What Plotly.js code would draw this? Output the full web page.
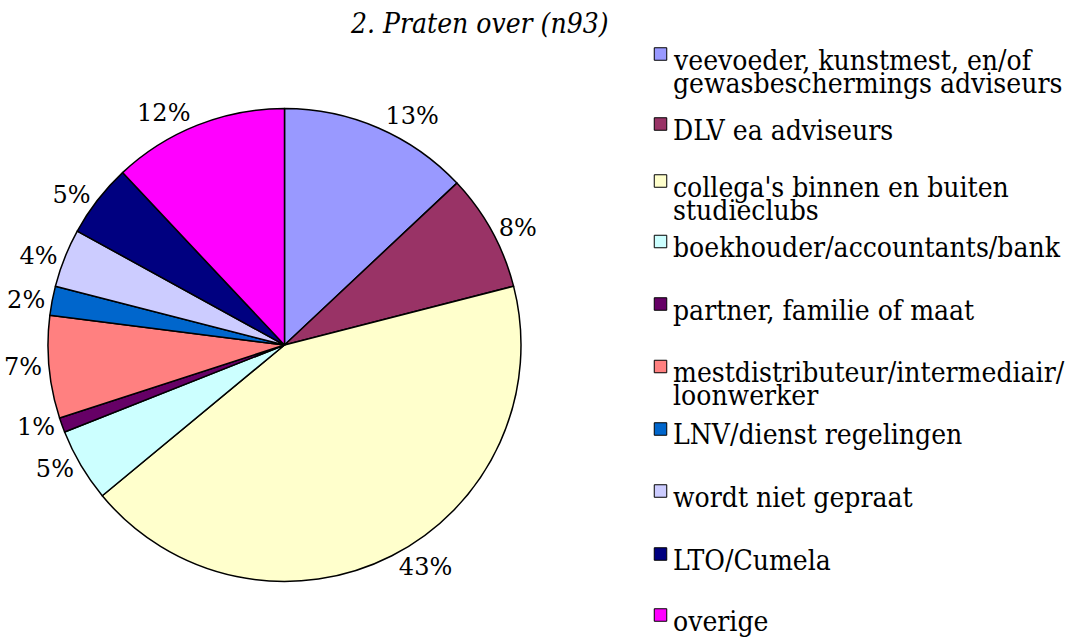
<!DOCTYPE html>
<html>
<head>
<meta charset="utf-8">
<script src="https://cdn.plot.ly/plotly-3.0.1.min.js"></script>
<style>
  html, body { margin: 0; padding: 0; background: #fff; }
  #chart { width: 1067px; height: 638px; }
</style>
</head>
<body>
<div id="chart"></div>
<script>
// ---- data ----
var categories = [
  "veevoeder, kunstmest, en/of<br>gewasbeschermings adviseurs",
  "DLV ea adviseurs",
  "collega's binnen en buiten<br>studieclubs",
  "boekhouder/accountants/bank",
  "partner, familie of maat",
  "mestdistributeur/intermediair/<br>loonwerker",
  "LNV/dienst regelingen",
  "wordt niet gepraat",
  "LTO/Cumela",
  "overige"
];
var shares = [13, 8, 43, 5, 1, 7, 2, 4, 5, 12];
var chartTitle = "2. Praten over (n93)";

// ---- styles ----
var colors = ["#9999FF", "#993366", "#FFFFCC", "#CCFFFF", "#660066",
              "#FF8080", "#0066CC", "#CCCCFF", "#000080", "#FF00FF"];
var W = 1067, H = 638;
var FONT = "DejaVu Serif Condensed";
function px(x) { return x / W; }
function py(y) { return 1 - y / H; }

// legend marker centre positions (pixels)
var legendY = [54, 124, 181, 241.5, 304, 366.5, 429, 491, 554, 615];
var markerX = 660.5, markerSize = 12.5, textX = 671, lineGap = 23, textDy = 6;

var trace = {
  type: "pie",
  values: shares,
  labels: categories.map(function (c) { return c.replace("<br>", " "); }),
  sort: false,
  direction: "clockwise",
  rotation: 0,
  marker: { colors: colors, line: { color: "#000", width: 1.5 } },
  textposition: "outside",
  texttemplate: "%{percent:.0%}",
  textfont: { family: "DejaVu Serif", size: 24, color: "#000" },
  hoverinfo: "label+percent",
  showlegend: false,
  domain: { x: [px(48), px(521)], y: [py(581.5), py(108.5)] }
};

var shapes = [], annotations = [];
categories.forEach(function (cat, i) {
  var cy = legendY[i];
  shapes.push({
    type: "rect", xref: "paper", yref: "paper",
    x0: px(markerX - markerSize / 2), x1: px(markerX + markerSize / 2),
    y0: py(cy + markerSize / 2), y1: py(cy - markerSize / 2),
    fillcolor: colors[i], line: { color: "#000", width: 1 }
  });
  cat.split("<br>").forEach(function (line, j) {
    annotations.push({
      xref: "paper", yref: "paper",
      x: px(textX), y: py(cy + textDy + j * lineGap),
      xanchor: "left", yanchor: "middle",
      text: line, showarrow: false,
      font: { family: FONT, size: 28, color: "#000" }
    });
  });
});

annotations.push({
  xref: "paper", yref: "paper",
  x: px(479), y: py(23), xanchor: "center", yanchor: "middle",
  text: "<i>" + chartTitle + "</i>", showarrow: false,
  font: { family: "DejaVu Serif Condensed", size: 28, color: "#000" }
});

var layout = {
  width: W, height: H,
  margin: { l: 0, r: 0, t: 0, b: 0 },
  paper_bgcolor: "#fff",
  plot_bgcolor: "#fff",
  showlegend: false,
  shapes: shapes,
  annotations: annotations
};

Plotly.newPlot("chart", [trace], layout, { displayModeBar: false, staticPlot: true });
</script>
</body>
</html>
